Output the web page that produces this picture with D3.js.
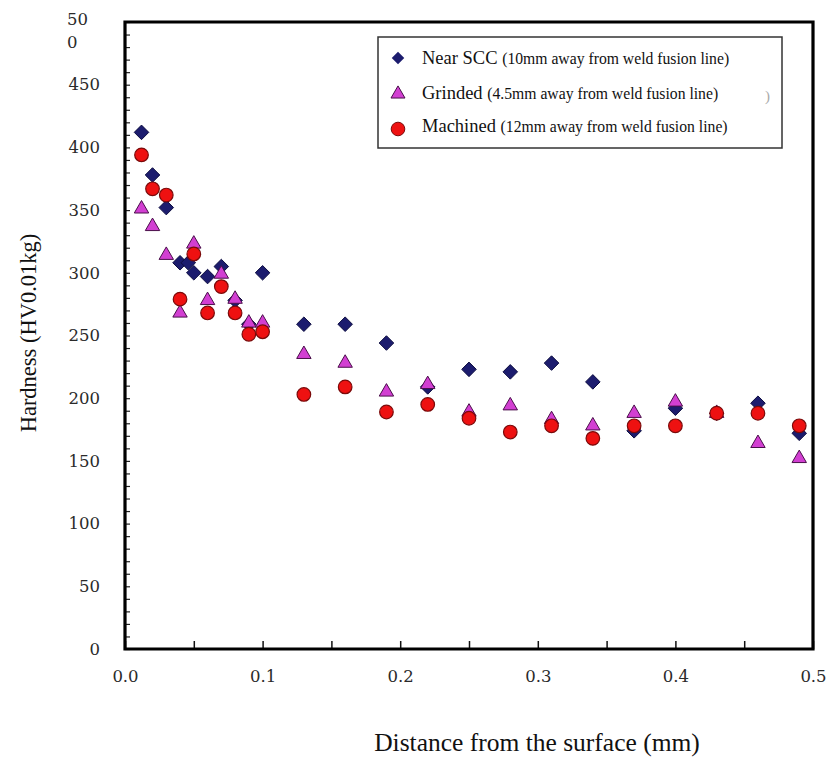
<!DOCTYPE html>
<html>
<head>
<meta charset="utf-8">
<script src="https://cdn.jsdelivr.net/npm/d3@7"></script>
<style>
  html, body { margin: 0; padding: 0; background: #fff; }
  svg { display: block; }
</style>
</head>
<body>
<svg id="chart" width="834" height="765"></svg>
<script>
// ---- data ----
const nearX  = [0.012,0.02,0.03,0.04,0.046,0.05,0.06,0.07,0.08,0.09,0.1,0.13,0.16,0.19,0.22,0.25,0.28,0.31,0.34,0.37,0.40,0.43,0.46,0.49];
const nearY  = [412,378,352,308,308,300,297,305,278,259,300,259,259,244,209,223,221,228,213,174,192,188,196,172];
const grindX = [0.012,0.02,0.03,0.04,0.05,0.06,0.07,0.08,0.09,0.1,0.13,0.16,0.19,0.22,0.25,0.28,0.31,0.34,0.37,0.40,0.43,0.46,0.49];
const grindY = [351,337,314,268,323,278,299,279,260,260,235,228,205,211,189,194,183,178,188,197,188,164,152];
const machX  = [0.012,0.02,0.03,0.04,0.05,0.06,0.07,0.08,0.09,0.1,0.13,0.16,0.19,0.22,0.25,0.28,0.31,0.34,0.37,0.40,0.43,0.46,0.49];
const machY  = [394,367,362,279,315,268,289,268,251,253,203,209,189,195,184,173,178,168,178,178,188,188,178];

const xTicks = [0.0,0.1,0.2,0.3,0.4,0.5];
const xTickLabels = ["0.0","0.1","0.2","0.3","0.4","0.5"];
const yTicks = [0,50,100,150,200,250,300,350,400,450];
const yTickLabels = ["0","50","100","150","200","250","300","350","400","450"];
const yTopLabel = ["50","0"];

const legendMain = ["Near SCC","Grinded","Machined"];
const legendSub  = ["(10mm away from weld fusion line)","(4.5mm away from weld fusion line)","(12mm away from weld fusion line)"];
const xTitle = "Distance from the surface (mm)";
const yTitle = "Hardness (HV0.01kg)";

// ---- layout ----
const svg = d3.select("#chart");
const L = 125, R = 813, T = 22, B = 649;
const x = d3.scaleLinear().domain([0, 0.5]).range([L, R]);
const y = d3.scaleLinear().domain([0, 500]).range([B, T]);

const tickFont = "'DejaVu Serif', serif";
const textFont = "'Liberation Serif', 'Times New Roman', serif";
const tickSize = 16.5;

// minor ticks via axes (inward)
const yMinor = d3.range(0, 501, 10);
svg.append("g").attr("transform", `translate(${L},0)`)
  .call(d3.axisRight(y).tickValues(yMinor).tickSize(5).tickFormat(""))
  .call(g => g.select(".domain").remove())
  .call(g => g.selectAll("line").attr("stroke", "#222").attr("stroke-width", 1.2));
const xMinor = d3.range(0, 0.5001, 0.05);
svg.append("g").attr("transform", `translate(0,${B})`)
  .call(d3.axisTop(x).tickValues(xMinor).tickSize(8).tickFormat(""))
  .call(g => g.select(".domain").remove())
  .call(g => g.selectAll("line").attr("stroke", "#111").attr("stroke-width", 1.5));

// tick labels
svg.append("g").attr("transform", `translate(0,${B})`)
  .call(d3.axisBottom(x).tickValues(xTicks).tickSize(0).tickPadding(21)
        .tickFormat((d, i) => xTickLabels[i]))
  .call(g => g.select(".domain").remove())
  .call(g => g.selectAll("text").attr("font-family", tickFont).attr("font-size", tickSize).attr("fill", "#2a2a2a"));

svg.append("g").attr("transform", `translate(${L},0)`)
  .call(d3.axisLeft(y).tickValues(yTicks).tickSize(0).tickPadding(25)
        .tickFormat((d, i) => yTickLabels[i]))
  .call(g => g.select(".domain").remove())
  .call(g => g.selectAll("text").attr("font-family", tickFont).attr("font-size", tickSize).attr("fill", "#2a2a2a"));

// split top label "50" / "0"
svg.append("text").attr("x", 67).attr("y", 25).attr("font-family", tickFont).attr("font-size", tickSize).attr("fill", "#2a2a2a").text(yTopLabel[0]);
svg.append("text").attr("x", 67).attr("y", 48).attr("font-family", tickFont).attr("font-size", tickSize).attr("fill", "#2a2a2a").text(yTopLabel[1]);

// frame
svg.append("path")
  .attr("d", `M${L},${T}H${R}V${B}H${L}Z`)
  .attr("fill", "none").attr("stroke", "#000").attr("stroke-width", 3.2);

// markers
const diamond = d3.symbol().type(d3.symbolDiamond2).size(135);
const tri = d3.symbol().type(d3.symbolTriangle).size(90);

svg.append("g").selectAll("path").data(nearX.map((d, i) => [d, nearY[i]])).join("path")
  .attr("d", diamond)
  .attr("transform", d => `translate(${x(d[0])},${y(d[1])})`)
  .attr("fill", "#1c1c6e").attr("stroke", "#0d0d40").attr("stroke-width", 1);

svg.append("g").selectAll("path").data(grindX.map((d, i) => [d, grindY[i]])).join("path")
  .attr("d", tri)
  .attr("transform", d => `translate(${x(d[0])},${y(d[1])})`)
  .attr("fill", "#d23fd2").attr("stroke", "#4a0f4a").attr("stroke-width", 1);

svg.append("g").selectAll("circle").data(machX.map((d, i) => [d, machY[i]])).join("circle")
  .attr("cx", d => x(d[0])).attr("cy", d => y(d[1])).attr("r", 6.8)
  .attr("fill", "#ee1111").attr("stroke", "#7a0a0a").attr("stroke-width", 1.2);

// legend
const lg = svg.append("g");
lg.append("rect").attr("x", 378).attr("y", 37).attr("width", 404).attr("height", 111)
  .attr("fill", "#fff").attr("stroke", "#333").attr("stroke-width", 1.5);
const rowsY = [58, 93, 126];
lg.append("path").attr("d", d3.symbol().type(d3.symbolDiamond2).size(100))
  .attr("transform", `translate(398,${rowsY[0]})`).attr("fill", "#1c1c6e");
lg.append("path").attr("d", d3.symbol().type(d3.symbolTriangle).size(85))
  .attr("transform", `translate(398,${rowsY[1] + 1})`).attr("fill", "#d23fd2").attr("stroke", "#4a0f4a");
lg.append("circle").attr("cx", 398).attr("cy", rowsY[2] + 3).attr("r", 6.8)
  .attr("fill", "#ee1111").attr("stroke", "#7a0a0a");
legendMain.forEach((m, i) => {
  const t = lg.append("text").attr("x", 422).attr("y", rowsY[i] + 6)
    .attr("font-family", textFont).attr("fill", "#111");
  t.append("tspan").attr("font-size", 18.5).text(m + " ");
  t.append("tspan").attr("font-size", 15.7).text(legendSub[i]);
});
svg.append("text").attr("x", 765).attr("y", 101).attr("font-family", textFont)
  .attr("font-size", 15).attr("fill", "#aaa").text(")");

// axis titles
svg.append("text").attr("x", 537).attr("y", 751).attr("text-anchor", "middle")
  .attr("font-family", textFont).attr("font-size", 25.5).attr("fill", "#111").text(xTitle);
svg.append("text").attr("transform", "translate(36,333) rotate(-90)").attr("text-anchor", "middle")
  .attr("font-family", textFont).attr("font-size", 22.5).attr("fill", "#111").text(yTitle);
</script>
</body>
</html>
